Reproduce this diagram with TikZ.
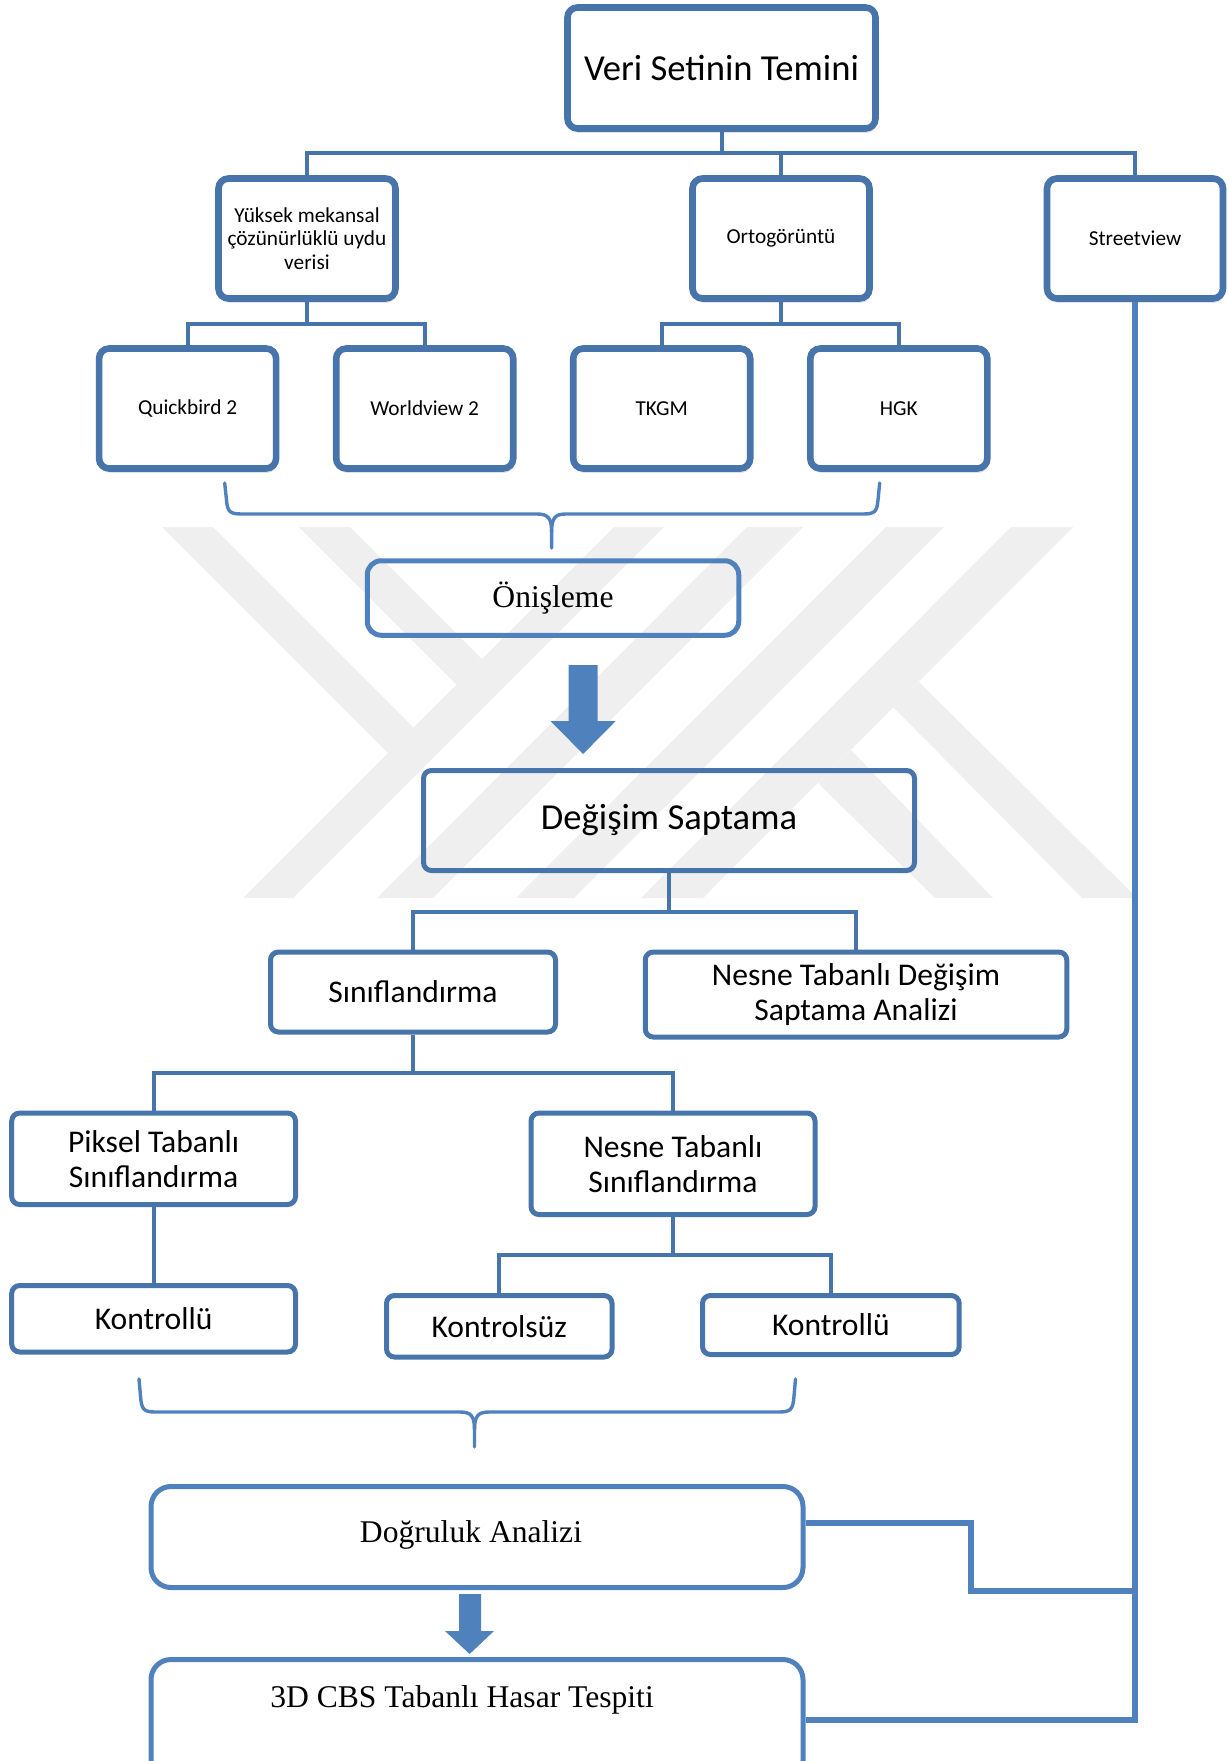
\documentclass[tikz,border=0pt]{standalone}
\usepackage{fontspec}
\setmainfont{Liberation Serif}
\newfontfamily\calfont{Carlito}
\usetikzlibrary{shadows}
\definecolor{dblue}{RGB}{71,116,170}
\definecolor{lblue}{RGB}{79,129,189}
\definecolor{wmgray}{RGB}{239,239,239}
\begin{document}
\begin{tikzpicture}[x=0.5pt,y=-0.5pt,
  bigfont/.style={font=\calfont\fontsize{18.3pt}{22pt}\selectfont},
  midfont/.style={font=\calfont\fontsize{15.8pt}{17.5pt}\selectfont},
  smallfont/.style={font=\calfont\fontsize{10.65pt}{11.75pt}\selectfont},
  seriffont/.style={font=\fontsize{15.8pt}{18pt}\selectfont},
  topbox/.style={draw=dblue, line width=3.3pt, rounded corners=5pt, fill=white,
     inner sep=0pt, align=center, smallfont,
     drop shadow={opacity=0.22, shadow xshift=0.6pt, shadow yshift=-2.2pt}},
  midbox/.style={draw=dblue, line width=2.5pt, rounded corners=4pt,
     inner sep=0pt, align=center, midfont},
  softbox/.style={draw=lblue, line width=2.5pt, inner sep=0pt, align=center, seriffont},
  conn/.style={draw=dblue, line width=2pt},
  fb/.style={draw=lblue, line width=2.75pt},
  brace/.style={draw=lblue, line width=1.7pt, line cap=round},
  wm/.style={fill=wmgray}
]
\useasboundingbox (0,0) rectangle (1228,1761);
\clip (0,0) rectangle (1228,1761);

% watermark
\fill[wm] (162,527) -- (213,527) -- (413.5,727.5) -- (388,753) -- cycle;
\fill[wm] (243,898) -- (293,898) -- (664,527) -- (614,527) -- cycle;
\fill[wm] (299,527) -- (350,527) -- (482,659) -- (456.5,684.5) -- cycle;
\fill[wm] (377,898) -- (433,898) -- (803,527) -- (747,527) -- cycle;
\fill[wm] (516,898) -- (574,898) -- (944,527) -- (886,527) -- cycle;
\fill[wm] (641,898) -- (703,898) -- (1073,527) -- (1011,527) -- cycle;
\fill[wm] (919,682) -- (1137,898) -- (1082,898) -- (893,707) -- cycle;
\fill[wm] (851,750) -- (993,898) -- (935,898) -- (818,783) -- cycle;

% top level
\node[topbox, bigfont, minimum width=154pt, minimum height=60.5pt] (veri) at (721.5,68) {Veri Setinin Temini};
\node[topbox, minimum width=88.5pt, minimum height=60pt] (yuksek) at (307,238.5) {Yüksek mekansal\\çözünürlüklü uydu\\verisi};
\node[topbox, minimum width=88.5pt, minimum height=60pt] (orto) at (781,238.5) {Ortogörüntü};
\node[topbox, minimum width=88pt, minimum height=60pt] (street) at (1135,238.5) {Streetview};
\node[topbox, minimum width=88.5pt, minimum height=60pt] (quick) at (187.6,408.5) {Quickbird 2};
\node[topbox, minimum width=88.5pt, minimum height=60pt] (world) at (424.7,408.5) {Worldview 2};
\node[topbox, minimum width=88.5pt, minimum height=60pt] (tkgm) at (661.7,408.5) {TKGM};
\node[topbox, minimum width=88.5pt, minimum height=60pt] (hgk) at (898.8,408.5) {HGK};

\coordinate (b1) at (0,153);
\draw[conn] (veri.south) -- (veri.south |- b1);
\draw[conn] (yuksek.north) |- (street.north |- b1) -- (street.north);
\draw[conn] (orto.north) -- (orto.north |- b1);
\coordinate (b2) at (0,323.6);
\draw[conn] (yuksek.south) -- (yuksek.south |- b2);
\draw[conn] (quick.north) |- (world.north |- b2) -- (world.north);
\draw[conn] (orto.south) -- (orto.south |- b2);
\draw[conn] (tkgm.north) |- (hgk.north |- b2) -- (hgk.north);

% brace 1
\draw[brace] (224.7,483) -- (226.5,500) .. controls (227.5,512) and (230,514) .. (242,514) -- (537,514) .. controls (548,514) and (551.6,518) .. (551.6,532) -- (551.6,548);
\draw[brace] (879.7,483) -- (878,500) .. controls (877,512) and (874.5,514) .. (862.5,514) -- (566,514) .. controls (555,514) and (551.6,518) .. (551.6,532);

\node[softbox, rounded corners=7pt, minimum width=185.75pt, minimum height=37.25pt] (onis) at (553,598) {Önişleme};
\fill[lblue] (568.5,665) -- (597.7,665) -- (597.7,721) -- (615.7,721) -- (583.1,754) -- (550.5,721) -- (568.5,721) -- cycle;

\node[midbox, bigfont, minimum width=245.5pt, minimum height=50pt] (degisim) at (669,820.5) {Değişim Saptama};
\node[midbox, minimum width=142.5pt, minimum height=40pt] (sinif) at (413,992) {Sınıflandırma};
\node[midbox, minimum width=210.75pt, minimum height=42.5pt] (nesnedeg) at (856,994.5) {Nesne Tabanlı Değişim\\Saptama Analizi};
\node[midbox, minimum width=141.9pt, minimum height=45.75pt] (piksel) at (153.6,1158.75) {Piksel Tabanlı\\Sınıflandırma};
\node[midbox, minimum width=142pt, minimum height=50.75pt] (nesnesinif) at (673,1163.75) {Nesne Tabanlı\\Sınıflandırma};
\node[midbox, minimum width=141.9pt, minimum height=33.25pt] (kontrollu1) at (153.6,1318.75) {Kontrollü};
\node[midbox, minimum width=112.75pt, minimum height=30.75pt] (kontrolsuz) at (499.25,1326.25) {Kontrolsüz};
\node[midbox, minimum width=128.35pt, minimum height=29.5pt] (kontrollu2) at (830.85,1325) {Kontrollü};

\coordinate (b3) at (0,912);
\draw[conn] (degisim.south) -- (degisim.south |- b3);
\draw[conn] (sinif.north) |- (nesnedeg.north |- b3) -- (nesnedeg.north);
\coordinate (b4) at (0,1073);
\draw[conn] (sinif.south) -- (sinif.south |- b4);
\draw[conn] (piksel.north) |- (nesnesinif.north |- b4) -- (nesnesinif.north);
\draw[conn] (piksel.south) -- (kontrollu1.north);
\coordinate (b5) at (0,1254.5);
\draw[conn] (nesnesinif.south) -- (nesnesinif.south |- b5);
\draw[conn] (kontrolsuz.north) |- (kontrollu2.north |- b5) -- (kontrollu2.north);

% brace 2
\draw[brace] (139,1379) -- (140.5,1396) .. controls (141.5,1410) and (144,1412) .. (156,1412) -- (460,1412) .. controls (471,1412) and (474.5,1416) .. (474.5,1430) -- (474.5,1447);
\draw[brace] (795.5,1379) -- (794,1396) .. controls (793,1410) and (790.5,1412) .. (778.5,1412) -- (489,1412) .. controls (478,1412) and (474.5,1416) .. (474.5,1430);

\node[softbox, rounded corners=10pt, minimum width=326pt, minimum height=50.5pt] (dogruluk) at (477,1537) {};
\node[seriffont, inner sep=0pt] (dogtext) at (471,1535) {Doğruluk Analizi};
\fill[lblue] (459,1594) -- (481,1594) -- (481,1631) -- (494,1631) -- (469.6,1654) -- (445,1631) -- (459,1631) -- cycle;
\node[softbox, rounded corners=10pt, minimum width=326pt, minimum height=60.5pt] (cbs) at (477,1720) {};
\node[seriffont, inner sep=0pt] (cbstext) at (462,1700) {3D CBS Tabanlı Hasar Tespiti};

% feedback lines
\coordinate (knee) at (971,1591);
\draw[fb] ([yshift=7pt]dogruluk.east) -| (knee) -- (knee -| street.south);
\draw[fb] (street.south) -- (street.south |- cbs.east) -- (cbs.east);
\end{tikzpicture}
\end{document}
